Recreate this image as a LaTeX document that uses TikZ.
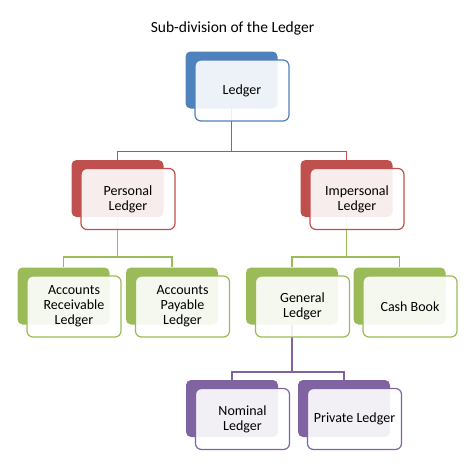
\documentclass[tikz,border=0pt]{standalone}
\usepackage{fontspec}
\setmainfont{Carlito}
\usetikzlibrary{positioning}
\definecolor{ldblue}{HTML}{4F81BD}
\definecolor{ldred}{HTML}{C0504D}
\definecolor{ldgreen}{HTML}{9BBB59}
\definecolor{ldpurple}{HTML}{8064A2}
\begin{document}
\begin{tikzpicture}[x=1pt, y=-1pt,
  back/.style={fill=#1, rounded corners=5pt, minimum width=92pt, minimum height=57pt, inner sep=0pt},
  front/.style={draw=#1, line width=1.2pt, fill=white, fill opacity=0.9, text opacity=1, rounded corners=6pt, minimum width=94pt, minimum height=61pt, inner sep=2pt, align=center, font=\fontsize{14}{15}\selectfont},
  link/.style={draw=#1, line width=1.5pt}
]
\useasboundingbox (0,0) rectangle (474,474);
\node[font=\fontsize{15.5}{18}\selectfont] (title) at (232.5,28) {Sub-division of the Ledger};

% back shapes
\node[back=ldblue] (ledgerB) at (231.5,80) {};
\node[back=ldred] (personalB) at (117.5,188.5) {};
\node[back=ldred] (impersonalB) at (346.5,188.5) {};
\node[back=ldgreen] (receivableB) at (63.5,296) {};
\node[back=ldgreen] (payableB) at (172,296) {};
\node[back=ldgreen] (generalB) at (292,296) {};
\node[back=ldgreen] (cashB) at (399.5,296) {};
\node[back=ldpurple] (nominalB) at (232,408.5) {};
\node[back=ldpurple] (privateB) at (344,408.5) {};

% connectors
\draw[link=ldred] (ledgerB.south) -- ++(0,43) -| (personalB.north);
\draw[link=ldred] (ledgerB.south) -- ++(0,43) -| (impersonalB.north);
\draw[link=ldgreen] (personalB.south) -- ++(0,40) -| (receivableB.north);
\draw[link=ldgreen] (personalB.south) -- ++(0,40) -| (payableB.north);
\draw[link=ldgreen] (impersonalB.south) -- ++(0,40) -| (generalB.north);
\draw[link=ldgreen] (impersonalB.south) -- ++(0,40) -| (cashB.north);
\draw[link=ldpurple] (generalB.south) -- ++(0,47.5) -| (nominalB.north);
\draw[link=ldpurple] (generalB.south) -- ++(0,47.5) -| (privateB.north);

% front shapes
\node[front=ldblue] (ledger) at ([shift={(10.5,10.5)}]ledgerB.center) {Ledger};
\node[front=ldred] (personal) at ([shift={(10.5,10.5)}]personalB.center) {Personal\\Ledger};
\node[front=ldred] (impersonal) at ([shift={(10.5,10.5)}]impersonalB.center) {Impersonal\\Ledger};
\node[front=ldgreen] (receivable) at ([shift={(10.5,10.5)}]receivableB.center) {Accounts\\Receivable\\Ledger};
\node[front=ldgreen] (payable) at ([shift={(10.5,10.5)}]payableB.center) {Accounts\\Payable\\Ledger};
\node[front=ldgreen] (general) at ([shift={(10.5,10.5)}]generalB.center) {General\\Ledger};
\node[front=ldgreen] (cash) at ([shift={(10.5,10.5)}]cashB.center) {Cash Book};
\node[front=ldpurple] (nominal) at ([shift={(10.5,10.5)}]nominalB.center) {Nominal\\Ledger};
\node[front=ldpurple] (private) at ([shift={(10.5,10.5)}]privateB.center) {Private Ledger};
\end{tikzpicture}
\end{document}
